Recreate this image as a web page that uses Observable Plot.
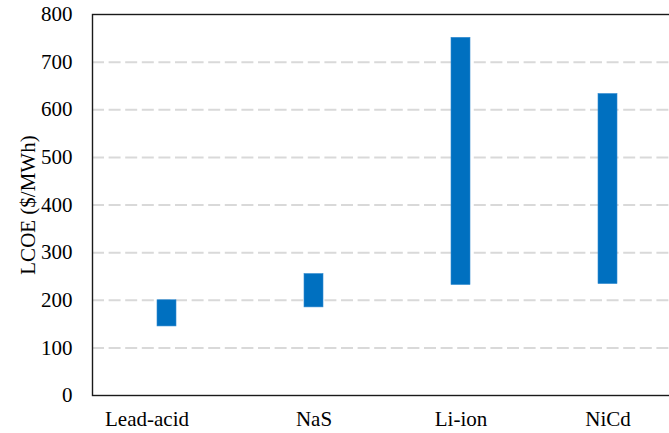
<!DOCTYPE html>
<html>
<head>
<meta charset="utf-8">
<script src="https://cdn.jsdelivr.net/npm/d3@7"></script>
<script src="https://cdn.jsdelivr.net/npm/@observablehq/plot@0.6"></script>
<style>
  html, body { margin: 0; padding: 0; background: #fff; overflow: hidden; }
  #chart { width: 669px; height: 433px; overflow: hidden; }
  #chart svg { max-width: none !important; }
</style>
</head>
<body>
<div id="chart"></div>
<script>
const categories = ["Lead-acid", "NaS", "Li-ion", "NiCd"];
const lowValues = [145, 185, 232, 234];
const highValues = [200, 255, 751, 633];
const yTicks = [0, 100, 200, 300, 400, 500, 600, 700, 800];
const gridValues = [100, 200, 300, 400, 500, 600, 700];

const data = categories.map((c, i) => ({category: c, low: lowValues[i], high: highValues[i]}));
const serif = '"Liberation Serif", "Times New Roman", Times, serif';

const chart = Plot.plot({
  width: 673,
  height: 433,
  marginLeft: 92,
  marginTop: 14,
  marginBottom: 38,
  marginRight: 0,
  style: {fontFamily: serif, fontSize: "21px", color: "#000", background: "#fff"},
  x: {
    domain: categories,
    range: [92, 681.5],
    paddingInner: 0.8712,
    paddingOuter: 0.434,
    label: null,
    tickSize: 0,
    tickPadding: 16
  },
  y: {
    domain: [0, 800],
    ticks: yTicks,
    tickSize: 0,
    tickPadding: 20,
    label: "LCOE ($/MWh)",
    labelAnchor: "center",
    labelArrow: "none",
    labelOffset: 72
  },
  marks: [
    Plot.ruleY(gridValues, {stroke: "#d9d9d9", strokeWidth: 2, strokeDasharray: "12,4.6"}),
    Plot.barY(data, {x: "category", y1: "low", y2: "high", fill: "#0070C0", stroke: "#2f8ad0", strokeWidth: 0.6}),
    Plot.frame({stroke: "#1a1a1a", strokeWidth: 1.4})
  ]
});

document.getElementById("chart").appendChild(chart);
d3.select(chart).selectAll("g, text, tspan")
  .style("font-family", serif, "important")
  .style("font-variant", "normal", "important")
  .style("font-weight", "normal", "important");
// The first category label sits left of its bar in the reference.
d3.select(chart).selectAll('g[aria-label="x-axis tick label"] text').filter((d, i) => i === 0).attr("dx", -20);
</script>
</body>
</html>
